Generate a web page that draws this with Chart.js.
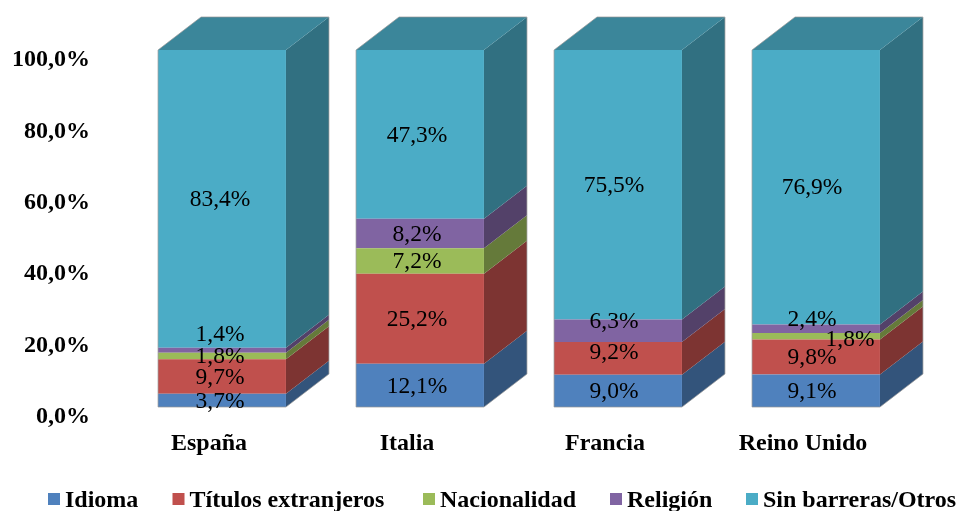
<!DOCTYPE html>
<html>
<head>
<meta charset="utf-8">
<title>Barreras por país</title>
<style>
  html, body { margin: 0; padding: 0; background: #fff; }
  canvas { display: block; }
</style>
<script src="https://cdn.jsdelivr.net/npm/chart.js@4/dist/chart.umd.min.js"></script>
</head>
<body>
<canvas id="myChart" width="957" height="511"></canvas>
<script>
const categories = ['España', 'Italia', 'Francia', 'Reino Unido'];
const yTickLabels = ['0,0%', '20,0%', '40,0%', '60,0%', '80,0%', '100,0%'];

const idioma = [3.7, 12.1, 9.0, 9.1];
const titulos = [9.7, 25.2, 9.2, 9.8];
const nacionalidad = [1.8, 7.2, 0, 1.8];
const religion = [1.4, 8.2, 6.3, 2.4];
const sinBarreras = [83.4, 47.3, 75.5, 76.9];

const seriesNames = ['Idioma', 'Títulos extranjeros', 'Nacionalidad', 'Religión', 'Sin barreras/Otros'];
const seriesValues = [idioma, titulos, nacionalidad, religion, sinBarreras];
const seriesColors = ['#4f81bd', '#c0504d', '#9bbb59', '#8064a2', '#4bacc6'];

// labels the original moved off the middle of their segment: "dataset-category": [dx, dy]
const labelNudges = { '3-0': [0, -16], '1-2': [0, -7], '3-2': [0, -10], '2-3': [38, 3], '3-3': [0, -10] };
const labelShiftX = [-2, -3, -4, -4];
const legendX = [48, 172.5, 423, 610, 746];

const DEPTH_X = 43;
const DEPTH_Y = 33;
const BOLD_FONT = { family: '"Liberation Serif", serif', size: 24, weight: 'bold' };

function shade(hex, factor) {
  const n = parseInt(hex.slice(1), 16);
  const r = Math.round((n >> 16) * factor);
  const g = Math.round(((n >> 8) & 255) * factor);
  const b = Math.round((n & 255) * factor);
  return `rgb(${r},${g},${b})`;
}

function fillPoly(ctx, points, color) {
  ctx.fillStyle = color;
  ctx.beginPath();
  points.forEach((p, i) => (i ? ctx.lineTo(p[0], p[1]) : ctx.moveTo(p[0], p[1])));
  ctx.closePath();
  ctx.fill();
}

// side and top faces, worked out from the bars Chart.js laid out
const depthFaces = {
  id: 'depthFaces',
  beforeDatasetsDraw(chart) {
    const ctx = chart.ctx;
    const lastSet = chart.data.datasets.length - 1;
    ctx.save();
    chart.data.datasets.forEach((ds, d) => {
      chart.getDatasetMeta(d).data.forEach(bar => {
        if (Math.abs(bar.base - bar.y) < 0.01) return;
        const right = bar.x + bar.width / 2;
        const left = bar.x - bar.width / 2;
        fillPoly(ctx, [[right, bar.y], [right + DEPTH_X, bar.y - DEPTH_Y], [right + DEPTH_X, bar.base - DEPTH_Y], [right, bar.base]], shade(ds.backgroundColor, 0.65));
        if (d === lastSet) {
          fillPoly(ctx, [[left, bar.y], [left + DEPTH_X, bar.y - DEPTH_Y], [right + DEPTH_X, bar.y - DEPTH_Y], [right, bar.y]], shade(ds.backgroundColor, 0.78));
        }
      });
    });
    ctx.restore();
  },
  afterDatasetsDraw(chart) {
    const ctx = chart.ctx;
    const first = chart.getDatasetMeta(0).data;
    const last = chart.getDatasetMeta(chart.data.datasets.length - 1).data;
    ctx.save();
    ctx.strokeStyle = 'rgba(150,150,150,0.7)';
    ctx.lineWidth = 1;
    first.forEach((bar, i) => {
      const top = last[i].y;
      const left = bar.x - bar.width / 2;
      const right = bar.x + bar.width / 2;
      ctx.beginPath();
      ctx.moveTo(left, bar.base);
      ctx.lineTo(left, top);
      ctx.lineTo(left + DEPTH_X, top - DEPTH_Y);
      ctx.lineTo(right + DEPTH_X, top - DEPTH_Y);
      ctx.lineTo(right + DEPTH_X, bar.base - DEPTH_Y);
      ctx.lineTo(right, bar.base);
      ctx.closePath();
      ctx.stroke();
    });
    ctx.restore();
  }
};

const valueLabels = {
  id: 'valueLabels',
  afterDraw(chart) {
    const ctx = chart.ctx;
    ctx.save();
    ctx.font = '23.5px "Liberation Serif", serif';
    ctx.fillStyle = '#000';
    ctx.textAlign = 'center';
    ctx.textBaseline = 'middle';
    chart.data.datasets.forEach((ds, d) => {
      chart.getDatasetMeta(d).data.forEach((bar, i) => {
        if (!ds.data[i]) return;
        const nudge = labelNudges[d + '-' + i] || [0, 0];
        const text = ds.data[i].toFixed(1).replace('.', ',') + '%';
        ctx.fillText(text, bar.x + labelShiftX[i] + nudge[0], (bar.y + bar.base) / 2 + 1 + nudge[1]);
      });
    });
    ctx.restore();
  }
};

// legend row: the built-in one leaves too wide a gap between swatch and text
const bottomLegend = {
  id: 'bottomLegend',
  afterDraw(chart) {
    const ctx = chart.ctx;
    ctx.save();
    ctx.font = `bold ${BOLD_FONT.size}px ${BOLD_FONT.family}`;
    ctx.textBaseline = 'alphabetic';
    chart.data.datasets.forEach((ds, i) => {
      ctx.fillStyle = ds.backgroundColor;
      ctx.fillRect(legendX[i], 493, 12, 12);
      ctx.fillStyle = '#000';
      ctx.fillText(ds.label, legendX[i] + 17, 507);
    });
    ctx.restore();
  }
};

new Chart(document.getElementById('myChart'), {
  type: 'bar',
  data: {
    labels: categories,
    datasets: seriesNames.map((name, i) => ({
      label: name,
      data: seriesValues[i],
      backgroundColor: seriesColors[i],
      borderWidth: 0,
      categoryPercentage: 1,
      barPercentage: 0.646
    }))
  },
  options: {
    responsive: false,
    animation: false,
    layout: { padding: { top: 50, right: 42, left: 0, bottom: 0 } },
    plugins: { legend: { display: false }, tooltip: { enabled: false } },
    scales: {
      x: {
        stacked: true,
        grid: { display: false, drawTicks: false },
        border: { display: false },
        afterFit: scale => { scale.height = 104; },
        ticks: { font: BOLD_FONT, color: '#000', padding: 22, labelOffset: -13, maxRotation: 0, autoSkip: false }
      },
      y: {
        stacked: true,
        min: 0,
        max: 100,
        grid: { display: false, drawTicks: false },
        border: { display: false },
        afterFit: scale => { scale.width = 123; },
        ticks: {
          stepSize: 20,
          font: BOLD_FONT,
          color: '#000',
          padding: 33,
          labelOffset: 10,
          callback: (value, index) => yTickLabels[index]
        }
      }
    }
  },
  plugins: [depthFaces, valueLabels, bottomLegend]
});
</script>
</body>
</html>
